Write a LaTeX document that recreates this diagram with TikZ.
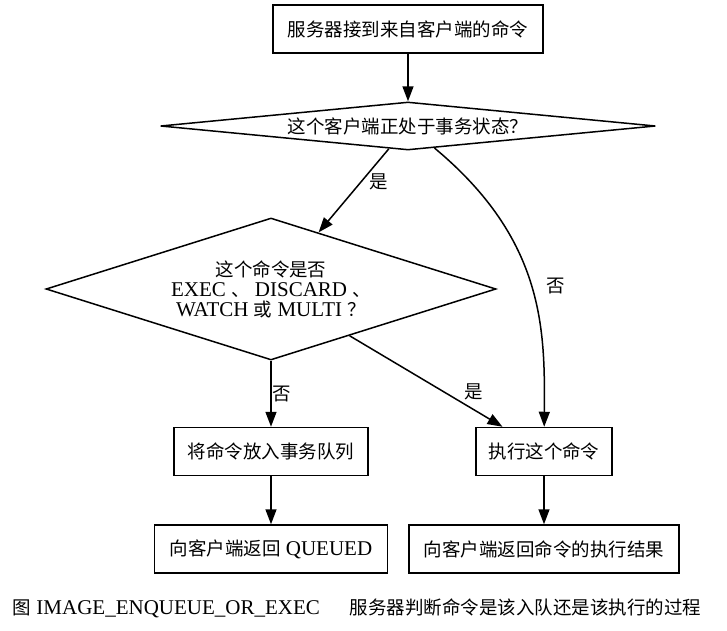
\documentclass[tikz,border=0pt]{standalone}
\usepackage{fontspec}
\setmainfont{Liberation Serif}
\newfontfamily\cjk[Scale=0.88]{Noto Sans CJK SC}
\usetikzlibrary{shapes.geometric,arrows.meta}
\newcommand{\zh}[1]{{\cjk #1}}

\begin{document}
\begin{tikzpicture}[x=10bp, y=-10bp, line width=1.5bp,
        every node/.style={font=\fontsize{21bp}{20bp}\selectfont},
        box/.style={draw, rectangle, minimum height=48bp, inner sep=0pt},
        test/.style={draw, diamond, inner sep=0pt},
        lbl/.style={inner sep=1bp},
        >={Triangle[length=15bp, width=11bp]}]
        \useasboundingbox (0, 0) rectangle (72.7, 63.1);
        \node [box, minimum width=270bp] (recv) at (40.8, 2.9) {\zh{服务器接到来自客户端的命令}}; 
        \node [test, aspect=10.3, minimum width=495bp, minimum height=48bp] (intx) at (40.8, 12.6) {\zh{这个客户端正处于事务状态？}}; 
        \node [test, aspect=3.17, minimum width=450bp, minimum height=142bp, align=center] (iscmd) at (27.1, 28.9)
                {\zh{这个命令是否}\\EXEC \zh{、} DISCARD \zh{、}\\WATCH \zh{或} MULTI \zh{？}}; 
        \node [box, minimum width=194bp] (enq)    at (27.1, 45.15) {\zh{将命令放入事务队列}}; 
        \node [box, minimum width=136bp] (exec)   at (54.4, 45.15) {\zh{执行这个命令}}; 
        \node [box, minimum width=233bp] (queued) at (27.1, 54.9)  {\zh{向客户端返回} QUEUED}; 
        \node [box, minimum width=270bp] (reply)  at (54.4, 54.9)  {\zh{向客户端返回命令的执行结果}}; 
        \node [anchor=base west, inner sep=0pt] (caption) at (1.2, 61.4)
                {\zh{图} IMAGE\_ENQUEUE\_OR\_EXEC\hspace{30bp}\zh{服务器判断命令是该入队还是该执行的过程}}; 
        \draw [->] (recv)  -- (intx); 
        \draw [->] (intx)  -- node [lbl, pos=0.4, right=7.5bp] {\zh{是}} (iscmd); 
        \draw [->] (intx)  .. controls (54.5, 24) and (54.5, 33) .. node [lbl, pos=0.5, right=14bp] {\zh{否}} (exec); 
        \draw [->] (iscmd) -- node [lbl, right] {\zh{否}} (enq); 
        \draw [->] (iscmd) -- node [lbl, pos=0.62, right=18bp] {\zh{是}} (exec); 
        \draw [->] (enq)   -- (queued); 
        \draw [->] (exec)  -- (reply); 
\end{tikzpicture}
\end{document}
